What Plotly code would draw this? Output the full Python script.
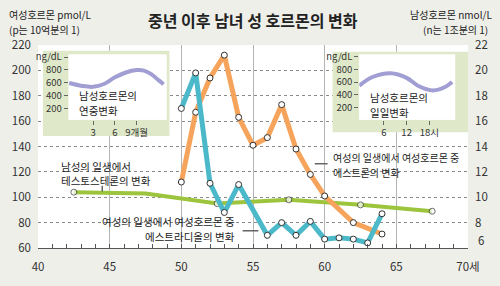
import plotly.graph_objects as go

# ---------------- data ----------------
ages_estradiol = [50, 51, 52, 53, 54, 56, 57, 58, 59, 60, 61, 62, 63, 64]
estradiol = [170, 198, 111, 88, 110, 70, 80, 70, 81, 67, 68, 67, 64, 87]

ages_estrone = [50, 51, 52, 53, 54, 55, 56, 57, 58, 59, 60, 62, 64]
estrone = [112, 167, 194, 212, 163, 141, 147, 173, 138, 118, 101, 80, 71]

ages_testo = [42.5, 47.5, 52.5, 57.5, 62.5, 67.5]
testosterone = [10.4, 10.3, 9.5, 9.8, 9.4, 8.9]
testo_marker_sizes = [6, 0, 6, 6, 6, 6]

months = [-0.3, 1.5, 3, 4.5, 6, 7.5, 9, 10, 11, 12, 12.7]
yearly = [596, 550, 536, 580, 684, 760, 797, 790, 735, 640, 575]

hours = [-0.5, 3, 7.8, 12, 15, 19, 22, 24]
daily = [545, 680, 740, 667, 545, 471, 520, 603]

x_ticks = [40, 45, 50, 55, 60, 65, 70]
x_ticktext = ["40", "45", "50", "55", "60", "65", "70세"]
left_ticks = [60, 80, 100, 120, 140, 160, 180, 200, 220]
right_ticks = [8, 10, 12, 14, 16, 18, 20, 22]
right_bottom_label = "6"

FONT = "Noto Sans CJK KR"
TXT = "#222222"
CYAN = "#4bb9c9"
ORANGE = "#f6a35b"
GREEN = "#9cc43c"
LAV = "#a09ed2"
PANEL = "#dfe9c9"

# pixel geometry helpers (plot area 35..470 x, 45..257 y)
L, R, T, B = 35, 470, 45, 257
W, H = 500, 286


def px(x):
    return (x - L) / (R - L)


def py(y):
    return (B - y) / (B - T)


def age(x):
    return 40 + (x - L) / (R - L) * 30


def rv(y):  # right-axis value for pixel y
    return 6 + (B - y) / (B - T) * 16


fig = go.Figure()

marker = dict(symbol="circle", size=6, color="white", line=dict(color="#333", width=1))

fig.add_trace(go.Scatter(x=ages_testo, y=testosterone, mode="lines+markers",
                         line=dict(color=GREEN, width=4),
                         marker=dict(symbol="circle", size=testo_marker_sizes, color="white",
                                     line=dict(color="#333", width=1)),
                         xaxis="x", yaxis="y", hoverinfo="skip"))
fig.add_trace(go.Scatter(x=ages_estrone, y=estrone, mode="lines+markers",
                         line=dict(color=ORANGE, width=5), marker=marker,
                         xaxis="x", yaxis="y2", hoverinfo="skip"))
fig.add_trace(go.Scatter(x=ages_estradiol, y=estradiol, mode="lines+markers",
                         line=dict(color=CYAN, width=5), marker=marker,
                         xaxis="x", yaxis="y2", hoverinfo="skip"))

# insets
fig.add_trace(go.Scatter(x=months, y=yearly, mode="lines", line=dict(color=LAV, width=4, shape="spline"),
                         xaxis="x3", yaxis="y3", hoverinfo="skip"))
fig.add_trace(go.Scatter(x=hours, y=daily, mode="lines", line=dict(color=LAV, width=4, shape="spline"),
                         xaxis="x4", yaxis="y4", hoverinfo="skip"))

shapes = []
# inset panels (between grid and traces)
for (x0, y0, x1, y1, c) in [(40, 51, 168, 140, PANEL), (66, 55, 165, 123, "white"),
                            (333, 52, 470, 136, PANEL), (360, 55, 457, 123, "white")]:
    shapes.append(dict(type="rect", xref="x", yref="y", x0=age(x0), x1=age(x1), y0=rv(y1), y1=rv(y0),
                       fillcolor=c, line=dict(width=0), layer="between"))
# leader lines
for (x0, y0, x1, y1) in [(242, 239, 258, 239), (315, 169, 328, 169), (100, 192, 100, 198)]:
    shapes.append(dict(type="line", xref="paper", yref="paper", x0=px(x0), x1=px(x1), y0=py(y0), y1=py(y1),
                       line=dict(color="#666", width=1.5), layer="above"))

ann = []


def text(x, y, s, anchor="left", size=10, bold=False, color=TXT):
    ann.append(dict(xref="paper", yref="paper", x=px(x), y=py(y), text=("<b>%s</b>" % s) if bold else s,
                    showarrow=False, xanchor=anchor, yanchor="middle",
                    font=dict(family=FONT, size=size, color=color)))


text(4, 13, "여성호르몬 pmol/L", size=10)
text(4, 29, "(p는 10억분의 1)", size=10)
text(496, 13, "남성호르몬 nmol/L", anchor="right", size=10)
text(492, 29, "(n는 1조분의 1)", anchor="right", size=10)
text(253, 19, "중년 이후 남녀 성 호르몬의 변화", anchor="center", size=16, bold=True)

text(56, 172, "남성의 일생에서", size=10.5)
text(56, 187, "테스토스테론의 변화", size=10.5)
text(236, 229, "여성의 일생에서 여성호르몬 중", anchor="right", size=10.5)
text(236, 245, "에스트라디올의 변화", anchor="right", size=10.5)
text(331, 162, "여성의 일생에서 여성호르몬 중", size=10)
text(331, 178, "에스트론의 변화", size=10)

text(74, 98, "남성호르몬의", size=10.5)
text(74, 113, "연중변화", size=10.5)
text(369, 100, "남성호르몬의", size=10.5)
text(369, 115, "일일변화", size=10.5)

# raised bottom label of the right axis (as in the original, lifted above "70세")
text(483, 249, right_bottom_label, anchor="center", size=11.5, color="#333")

tickfont = dict(family=FONT, size=11.5, color="#333")
smallfont = dict(family=FONT, size=9.5, color="#333")

fig.update_layout(
    width=W, height=H,
    margin=dict(l=L, r=W - R, t=T, b=H - B),
    paper_bgcolor="#efefea", plot_bgcolor="white",
    showlegend=False,
    shapes=shapes, annotations=ann,
    xaxis=dict(range=[40, 70], tickmode="array", tickvals=x_ticks, ticktext=x_ticktext,
               showgrid=True, gridcolor="#b5b5b5", gridwidth=1,
               showline=True, linecolor="#555", linewidth=1,
               ticks="inside", ticklen=4, tickcolor="#555", ticklabelstandoff=8,
               minor=dict(dtick=1, ticks="inside", ticklen=4, tickcolor="#555", showgrid=False),
               tickfont=tickfont, zeroline=False, fixedrange=True),
    yaxis=dict(range=[6, 22], tickmode="array", tickvals=right_ticks, side="right",
               showgrid=True, gridcolor="#8a8a8a", griddash="dot", gridwidth=1,
               ticks="", ticklabelstandoff=6, tickfont=tickfont, zeroline=False, showline=False),
    yaxis2=dict(range=[60, 220], tickmode="array", tickvals=left_ticks, side="left", overlaying="y",
                showgrid=False, ticks="", ticklabelstandoff=6, tickfont=tickfont, zeroline=False),
    xaxis3=dict(domain=[px(66), px(165)], anchor="y3", range=[-0.37, 13.1],
                tickmode="array", tickvals=[3, 6, 9], ticktext=["3", "6", "9개월"],
                ticks="outside", ticklen=4, tickcolor="#666", showgrid=False, zeroline=False,
                tickfont=smallfont),
    yaxis3=dict(domain=[py(123), py(55)], anchor="x3", range=[22, 1040],
                tickmode="array", tickvals=[200, 400, 600, 800, 1000],
                ticktext=["200", "400", "600", "800", "ng/dL"],
                ticks="outside", ticklen=4, tickcolor="#666", showgrid=False, zeroline=False,
                tickfont=smallfont),
    xaxis4=dict(domain=[px(360), px(457)], anchor="y4", range=[-0.5, 24.8],
                tickmode="array", tickvals=[6, 12, 18], ticktext=["6", "12", "18시"],
                ticks="outside", ticklen=4, tickcolor="#666", showgrid=False, zeroline=False,
                tickfont=smallfont),
    yaxis4=dict(domain=[py(123), py(55)], anchor="x4", range=[15, 1030],
                tickmode="array", tickvals=[200, 400, 600, 800, 1000],
                ticktext=["200", "400", "600", "800", "ng/dL"],
                ticks="outside", ticklen=4, tickcolor="#666", showgrid=False, zeroline=False,
                tickfont=smallfont),
)

fig.write_html("out.html")
